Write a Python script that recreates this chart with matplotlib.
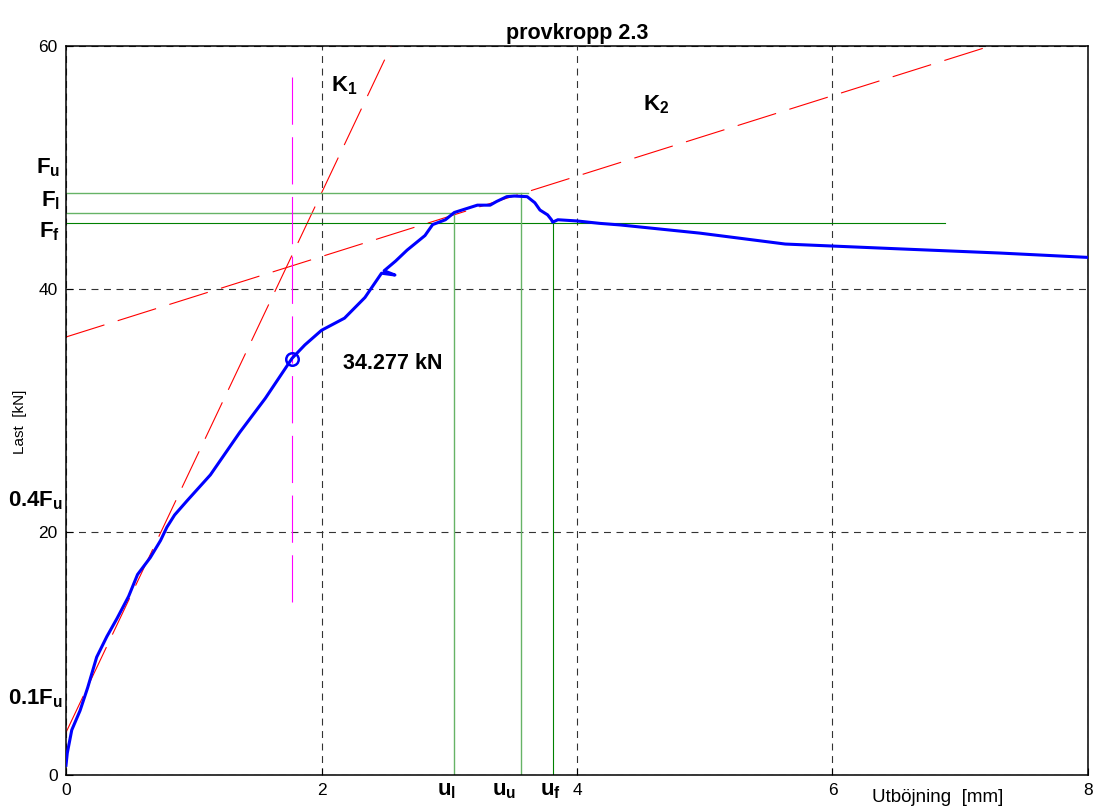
import matplotlib
matplotlib.use("Agg")
import matplotlib.pyplot as plt
import numpy as np

plt.rcParams['font.family'] = ['Liberation Sans', 'DejaVu Sans']
plt.rcParams['mathtext.fontset'] = 'custom'
plt.rcParams['mathtext.rm'] = 'Liberation Sans'
plt.rcParams['mathtext.bf'] = 'Liberation Sans:bold'
plt.rcParams['mathtext.it'] = 'Liberation Sans:italic'
plt.rcParams['lines.scale_dashes'] = False

defl = [0.00, 0.01, 0.045, 0.11, 0.17, 0.24, 0.32, 0.40, 0.49, 0.56, 0.66, 0.74,
        0.79, 0.85, 0.95, 1.13, 1.36, 1.56, 1.77, 1.87, 2.00, 2.18, 2.34, 2.47,
        2.575, 2.49, 2.58, 2.67, 2.81, 2.87, 2.97, 3.04, 3.16, 3.22, 3.32, 3.37,
        3.45, 3.51, 3.61, 3.67, 3.71, 3.77, 3.80, 3.81, 3.85, 4.00, 4.18, 4.34,
        4.96, 5.63, 6.53, 7.31, 8.00]
load = [0.8, 1.8, 3.7, 5.3, 7.2, 9.7, 11.4, 12.9, 14.7, 16.5, 17.9, 19.3,
        20.4, 21.4, 22.6, 24.7, 28.2, 31.0, 34.3, 35.4, 36.6, 37.6, 39.3, 41.3,
        41.15, 41.5, 42.3, 43.2, 44.4, 45.3, 45.7, 46.3, 46.7, 46.9, 46.9, 47.2,
        47.6, 47.65, 47.6, 47.1, 46.5, 46.1, 45.7, 45.5, 45.7, 45.6, 45.4, 45.27,
        44.6, 43.7, 43.3, 42.96, 42.6]

# characteristic values
F_u, F_l, F_f = 47.88, 46.28, 45.41
u_l, u_u, u_f = 3.04, 3.56, 3.81
Fu_end, Ff_end = 3.62, 6.88
u_mark, F_mark = 1.77, 34.277
mark_top, mark_bot = 57.45, 14.24
K1_icpt, K1_slope = 3.5, 22.2
K2_icpt, K2_slope = 36.05, 3.31

light_green = (0.40, 0.70, 0.40)
dark_green = (0.0, 0.5, 0.0)

fig = plt.figure(figsize=(10.96, 8.07), dpi=100)
ax = fig.add_axes([0.06022, 0.03965, 0.93248, 0.90335])

# tangent lines K1, K2
xs = np.array([0.0, 8.0])
ax.plot(xs, K1_icpt + K1_slope * xs, color='red', lw=0.8, linestyle=(0, (29, 10)))
ax.plot(xs, K2_icpt + K2_slope * xs, color='red', lw=0.8, linestyle=(0, (29, 10)))

# measured curve
ax.plot(defl, load, color='blue', lw=2.2, zorder=3)

# green reference lines
ax.plot([0, Fu_end], [F_u, F_u], color=light_green, lw=1.0)
ax.plot([0, u_l], [F_l, F_l], color=light_green, lw=1.0)
ax.plot([0, Ff_end], [F_f, F_f], color=dark_green, lw=0.8)
ax.plot([u_l, u_l], [0, F_l], color=light_green, lw=1.0)
ax.plot([u_u, u_u], [0, F_u], color=light_green, lw=1.0)
ax.plot([u_f, u_f], [0, F_f], color=dark_green, lw=0.8)

# marker line and point
ax.plot([u_mark, u_mark], [mark_top, mark_bot], color='magenta', lw=0.8,
        linestyle=(0, (34, 9)))
ax.plot([u_mark], [F_mark], 'o', mfc='none', mec='blue', mew=1.8, ms=9, zorder=4)
ax.text(2.17, 33.9, f'{F_mark:.3f} kN', fontsize=15.5, fontweight='bold',
        ha='left', va='center')

ax.set_xlim(0, 8)
ax.set_ylim(0, 60)
ax.set_xticks([0, 2, 4, 6, 8])
ax.set_yticks([0, 20, 40, 60])
ax.tick_params(direction='in', length=5, labelsize=12.5, pad=6)
ax.grid(True, color='#333333', linestyle=(0, (5, 4)), linewidth=0.8)
for s in ax.spines.values():
    s.set_linewidth(1.1)

ax.set_title('provkropp 2.3', fontsize=15.5, fontweight='bold', pad=5)
ax.set_xlabel('Utböjning  [mm]', fontsize=13.5, va='center')
ax.xaxis.set_label_coords(0.853, -0.031)
ax.set_ylabel('Last  [kN]', fontsize=11, va='center')
ax.yaxis.set_label_coords(-0.045, 0.484)

# annotations
lab = dict(fontsize=16, ha='right', va='center', clip_on=False)
ax.text(-0.047, 50.0, r'$\mathbf{F_u}$', **lab)
ax.text(-0.047, 47.3, r'$\mathbf{F_l}$', **lab)
ax.text(-0.047, 44.7, r'$\mathbf{F_f}$', **lab)
ax.text(-0.024, 22.6, r'$\mathbf{0.4F_u}$', **lab)
ax.text(-0.024, 6.25, r'$\mathbf{0.1F_u}$', **lab)
ax.text(2.074, 56.7, r'$\mathbf{K_1}$', fontsize=16, ha='left', va='center')
ax.text(4.517, 55.2, r'$\mathbf{K_2}$', fontsize=16, ha='left', va='center')
ulab = dict(fontsize=16, ha='center', va='center', clip_on=False)
ax.text(2.98, -1.3, r'$\mathbf{u_l}$', **ulab)
ax.text(3.43, -1.3, r'$\mathbf{u_u}$', **ulab)
ax.text(3.79, -1.3, r'$\mathbf{u_f}$', **ulab)

fig.savefig('out.png', dpi=100)
